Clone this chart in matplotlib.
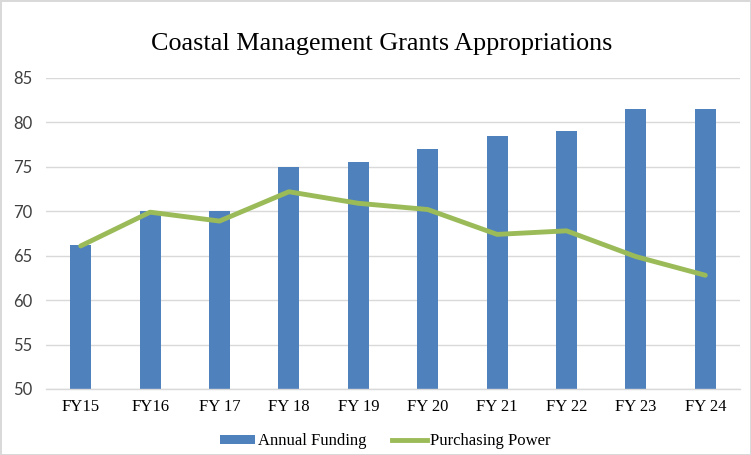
import matplotlib
matplotlib.use("Agg")
import matplotlib.pyplot as plt
from matplotlib.lines import Line2D
from matplotlib.patches import Patch
import numpy as np

categories = ["FY15", "FY16", "FY 17", "FY 18", "FY 19", "FY 20", "FY 21", "FY 22", "FY 23", "FY 24"]
annual_funding = [66.2, 70.0, 70.0, 75.0, 75.5, 77.0, 78.5, 79.0, 81.5, 81.5]
purchasing_power = [66.1, 69.9, 68.9, 72.2, 70.9, 70.2, 67.4, 67.8, 64.9, 62.8]
yticks = [50, 55, 60, 65, 70, 75, 80, 85]

bar_color = "#4F81BD"
line_color = "#9BBB59"
serif = ["Liberation Serif", "DejaVu Serif"]
sans = ["Lato", "DejaVu Sans"]

fig = plt.figure(figsize=(7.51, 4.55), dpi=100)
fig.patch.set_edgecolor("#D9D9D9")
fig.patch.set_linewidth(1.0)
ax = fig.add_axes([46/751, 1 - 389/455, (740-46)/751, (389-78)/455])

x = np.arange(len(categories))
ax.bar(x, [v - 50 for v in annual_funding], bottom=50, width=0.3, color=bar_color, zorder=2)
ax.plot(x, purchasing_power, color=line_color, linewidth=3.5, zorder=3, solid_capstyle="round")

ax.set_xlim(-0.5, len(categories) - 0.5)
ax.set_ylim(50, 85)
ax.set_yticks(yticks)
ax.set_yticklabels([str(t) for t in yticks], family=sans, fontsize=12, color="#404040")
ax.set_xticks(x)
ax.set_xticklabels(categories, family=serif, fontsize=12, color="#000000")
ax.tick_params(axis="x", length=0, pad=7)
ax.tick_params(axis="y", length=0, pad=10)
ax.grid(axis="y", color="#D9D9D9", linewidth=1.0, zorder=0)
for s in ["top", "right", "left"]:
    ax.spines[s].set_visible(False)
ax.spines["bottom"].set_color("#D9D9D9")
ax.spines["bottom"].set_linewidth(1.0)

fig.text(382/751, 1 - 44/455, "Coastal Management Grants Appropriations", ha="center", va="center",
         family=serif, fontsize=18.8, color="#000000")

handles = [Patch(facecolor=bar_color, label="Annual Funding"),
           Line2D([0], [0], color=line_color, linewidth=3.5, label="Purchasing Power")]
leg = fig.legend(handles=handles, loc="center", bbox_to_anchor=(385/751, 1 - 441/455), ncol=2,
                 frameon=False, prop={"family": serif, "size": 12}, handlelength=2.1,
                 handleheight=0.45, handletextpad=0.2, columnspacing=1.5)

fig.savefig("out.png", dpi=100)
